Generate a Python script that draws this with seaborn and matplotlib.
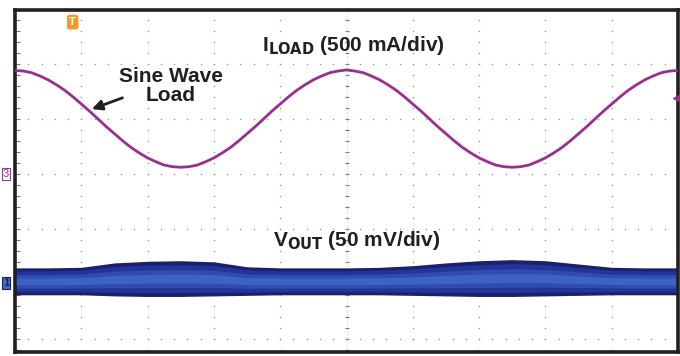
import matplotlib.pyplot as plt
import seaborn as sns
import pandas as pd
import numpy as np

# I_LOAD trace, every 1/8 division (x and y in divisions)
load_x = [i / 8 for i in range(81)]
load_y = [4.88, 4.87, 4.84, 4.78, 4.71, 4.62, 4.52, 4.40, 4.27, 4.14, 4.00, 3.86, 3.73, 3.60,
          3.48, 3.38, 3.29, 3.22, 3.16, 3.13, 3.12, 3.13, 3.16, 3.22, 3.29, 3.38, 3.48, 3.60,
          3.73, 3.86, 4.00, 4.14, 4.27, 4.40, 4.52, 4.62, 4.71, 4.78, 4.84, 4.87, 4.89,
          4.87, 4.84, 4.78, 4.71, 4.62, 4.52, 4.40, 4.27, 4.14, 4.00, 3.86, 3.73, 3.60,
          3.48, 3.38, 3.29, 3.22, 3.16, 3.13, 3.12, 3.13, 3.16, 3.22, 3.29, 3.38, 3.48, 3.60,
          3.73, 3.86, 4.00, 4.14, 4.27, 4.40, 4.52, 4.62, 4.71, 4.78, 4.84, 4.87, 4.88]

# V_OUT noise band envelope (top / bottom edge of the persistence trace)
vout_x = [0.0, 0.5, 1.0, 1.5, 2.0, 2.5, 3.0, 3.5, 4.0, 4.5, 5.0, 5.5, 6.0, 6.5, 7.0,
          7.5, 8.0, 8.5, 9.0, 9.5, 10.0]
vout_top = [1.29, 1.29, 1.30, 1.38, 1.41, 1.42, 1.40, 1.31, 1.29, 1.29, 1.29, 1.30, 1.33, 1.38, 1.42,
            1.44, 1.42, 1.36, 1.30, 1.29, 1.29]
vout_bot = [0.80, 0.80, 0.80, 0.78, 0.77, 0.77, 0.78, 0.79, 0.80, 0.80, 0.80, 0.80, 0.79, 0.78, 0.77,
            0.77, 0.78, 0.79, 0.80, 0.80, 0.80]

sns.set_style("white")
plt.rcParams['font.family'] = ['Liberation Sans', 'DejaVu Sans']

fig = plt.figure(figsize=(6.8, 3.56), dpi=100)
ax = fig.add_axes([15 / 680, 4 / 356, 663 / 680, 342 / 356])
ax.set_xlim(0, 10)
ax.set_ylim(-0.24, 5.98)

# dotted graticule
grid_c = '#9a9a9a'
sub = np.arange(0, 10.01, 0.2)
ys = np.arange(-0.2, 6.0, 0.2)
for gx in range(1, 10):
    ax.scatter(np.full(len(ys), gx), ys, s=1.2, color=grid_c, lw=0, zorder=1)
for gy in range(0, 6):
    ax.scatter(sub, np.full(len(sub), gy), s=1.2, color=grid_c, lw=0, zorder=1)
# centre line tick marks
ax.scatter(np.full(len(ys), 5), ys, s=6, marker='_', color='#777777', lw=0.8, zorder=1)
ax.axvline(5, color='#bbbbbb', lw=0.5, ls=(0, (1, 2)), zorder=1)
# ticks on left frame
ax.scatter(np.full(len(ys), 0.04), ys, s=5, marker='_', color='#777777', lw=0.8, zorder=1)

# V_OUT band
ax.fill_between(vout_x, vout_bot, vout_top, color='#1b1f6e', lw=0, zorder=2)
mid = [(t + b) / 2 for t, b in zip(vout_top, vout_bot)]
half = [(t - b) / 2 for t, b in zip(vout_top, vout_bot)]
ax.fill_between(vout_x, [m - h * 0.78 for m, h in zip(mid, half)],
                [m + h * 0.78 for m, h in zip(mid, half)], color='#24359a', lw=0, zorder=2)
ax.fill_between(vout_x, [m - h * 0.5 for m, h in zip(mid, half)],
                [m + h * 0.5 for m, h in zip(mid, half)], color='#2f4cb0', lw=0, zorder=2)
ax.fill_between(vout_x, [m - h * 0.25 for m, h in zip(mid, half)],
                [m + h * 0.25 for m, h in zip(mid, half)], color='#3c62c4', lw=0, zorder=2)

# I_LOAD trace
df = pd.DataFrame({'x': load_x, 'y': load_y})
sns.lineplot(data=df, x='x', y='y', ax=ax, color='#9b2d90', lw=2.0, zorder=3)

ax.set_xticks([])
ax.set_yticks([])
ax.set_xlabel('')
ax.set_ylabel('')
for s in ax.spines.values():
    s.set_linewidth(2.6)
    s.set_color('#231f20')

# labels
ax.text(5.1, 5.33, r'I$_{\mathbf{LOAD}}$ (500 mA/div)', ha='center', va='center',
        fontsize=15, fontweight='bold', color='#231f20')
ax.text(5.15, 1.78, r'V$_{\mathbf{OUT}}$ (50 mV/div)', ha='center', va='center',
        fontsize=15, fontweight='bold', color='#231f20')
ax.text(2.35, 4.6, 'Sine Wave\nLoad', ha='center', va='center', fontsize=15,
        fontweight='bold', color='#231f20', linespacing=1.0)
ax.annotate('', xy=(1.12, 4.16), xytext=(1.66, 4.4),
            arrowprops=dict(arrowstyle='-|>', color='#231f20', lw=2, mutation_scale=15))

# scope markers
ax.text(0.87, 5.76, 'T', ha='center', va='center', fontsize=8, fontweight='bold', color='white',
        bbox=dict(boxstyle='round,pad=0.15', fc='#f39a2b', ec='#f39a2b'))
ax.plot([9.97], [4.38], marker='<', color='#9b2d90', ms=5, clip_on=False, zorder=4)
fig.text(6 / 680, 1 - 174 / 356, '3', ha='center', va='center', fontsize=8, color='#a0308f',
         bbox=dict(boxstyle='square,pad=0.1', fc='white', ec='#a0308f', lw=0.8))
fig.text(6 / 680, 1 - 283 / 356, '1', ha='center', va='center', fontsize=8, color='#1b1f6e',
         fontweight='bold', bbox=dict(boxstyle='square,pad=0.1', fc='#3f6fc0', ec='#1b1f6e', lw=0.8))

fig.savefig('out.png', dpi=100, facecolor='white')
